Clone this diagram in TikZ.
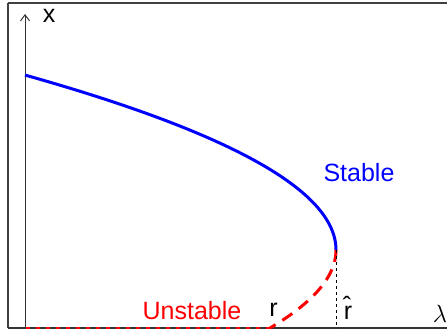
\documentclass[tikz,border=0pt]{standalone}
\usepackage{fontspec}
\setmainfont{Liberation Sans}
\usepackage{tikz}
\usetikzlibrary{arrows.meta}

\begin{document}
\begin{tikzpicture}[x=1pt,y=-1pt,
  lbl/.style={inner sep=0pt,font=\fontsize{25}{29}\selectfont},
  stablebranch/.style={blue,line width=3pt},
  unstablebranch/.style={red,line width=3pt,dash pattern=on 12pt off 8pt},
  axisline/.style={black!80,line width=1pt}]
\useasboundingbox (0,0) rectangle (447,332);
\coordinate (O) at (25,328);
\coordinate (ytop) at (25,14);
\coordinate (xend) at (455,328);
\coordinate (T) at (336,250);
\coordinate (rhat) at (336,328);
\coordinate (rpt) at (270,328);
% frame
\draw[black!75,line width=1.5pt] (8,3) -- (470,3) (8,3) -- (8,328);
% axes
\draw[black!80,line width=2pt] (8,328) -- (xend);
\draw[axisline,-{Straight Barb[length=6pt,width=9pt]}] (O) -- (ytop);
% branches
\draw[stablebranch] plot[domain=0:17.635,samples=80,smooth] ({336-\x*\x},{250-9.92*\x});
\draw[unstablebranch] plot[domain=0:8.124,samples=40,smooth] ({336-\x*\x},{250+9.6*\x});
\draw[red,line width=1.5pt,dash pattern=on 4pt off 6pt] (rpt) -- (O);
\draw[black,line width=0.8pt,dash pattern=on 3pt off 3pt] (T) -- (rhat);
% labels
\node[lbl] (xlab) at (49,16) {x};
\node[lbl] (rlab) at (273.5,310) {r};
\node[lbl] (rhatlab) at (348,308) {\^{r}};
\node[lbl,font=\fontsize{30}{34}\selectfont] (lamlab) at (440,314) {$\lambda$};
\node[lbl,red] (unst) at (192,311) {Unstable};
\node[lbl,blue] (st) at (359,173) {Stable};
\end{tikzpicture}
\end{document}
